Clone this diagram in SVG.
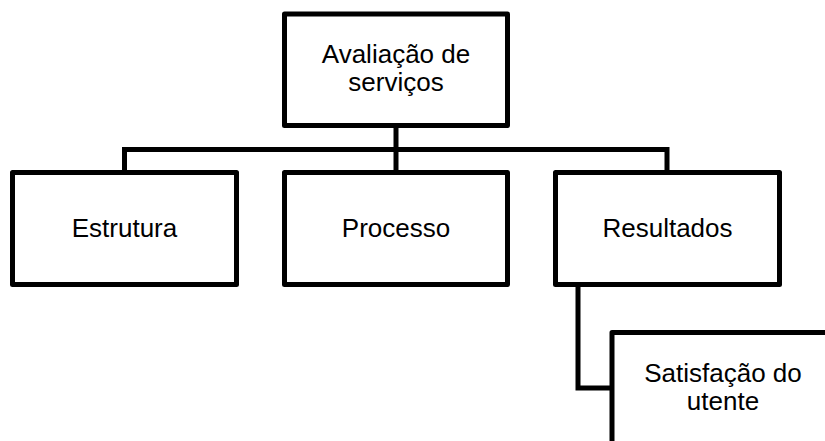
<svg xmlns="http://www.w3.org/2000/svg" width="825" height="441" viewBox="0 0 825 441">
  <style>
    .box { fill: #ffffff; stroke: #000000; stroke-width: 5; stroke-linejoin: round; }
    .link { fill: none; stroke: #000000; stroke-width: 5; stroke-linejoin: miter; }
    .label { font-family: "Liberation Sans", Arial, sans-serif; font-size: 26px; fill: #000000; text-anchor: middle; }
  </style>
  <rect width="825" height="441" fill="#ffffff"/>

  <!-- connectors -->
  <g id="connectors">
    <path class="link" d="M396 125 V172.5"/>
    <path class="link" d="M124.5 172.5 V149.5 H667 V172.5"/>
    <path class="link" d="M578 284.5 V388 H612"/>
  </g>

  <!-- root -->
  <g id="node-avaliacao">
    <rect class="box" x="284.5" y="14" width="223" height="111.5"/>
    <text class="label" x="396" y="63">Avaliação de</text>
    <text class="label" x="396" y="91">serviços</text>
  </g>

  <!-- second level -->
  <g id="node-estrutura">
    <rect class="box" x="12.5" y="172.5" width="224" height="112"/>
    <text class="label" x="124.5" y="237">Estrutura</text>
  </g>
  <g id="node-processo">
    <rect class="box" x="284.5" y="172.5" width="223" height="112"/>
    <text class="label" x="396" y="237">Processo</text>
  </g>
  <g id="node-resultados">
    <rect class="box" x="555.5" y="172.5" width="224" height="112"/>
    <text class="label" x="667.5" y="237">Resultados</text>
  </g>

  <!-- third level -->
  <g id="node-satisfacao">
    <rect class="box" x="612" y="332.5" width="224" height="112"/>
    <text class="label" x="723" y="382">Satisfação do</text>
    <text class="label" x="723" y="410">utente</text>
  </g>
</svg>
